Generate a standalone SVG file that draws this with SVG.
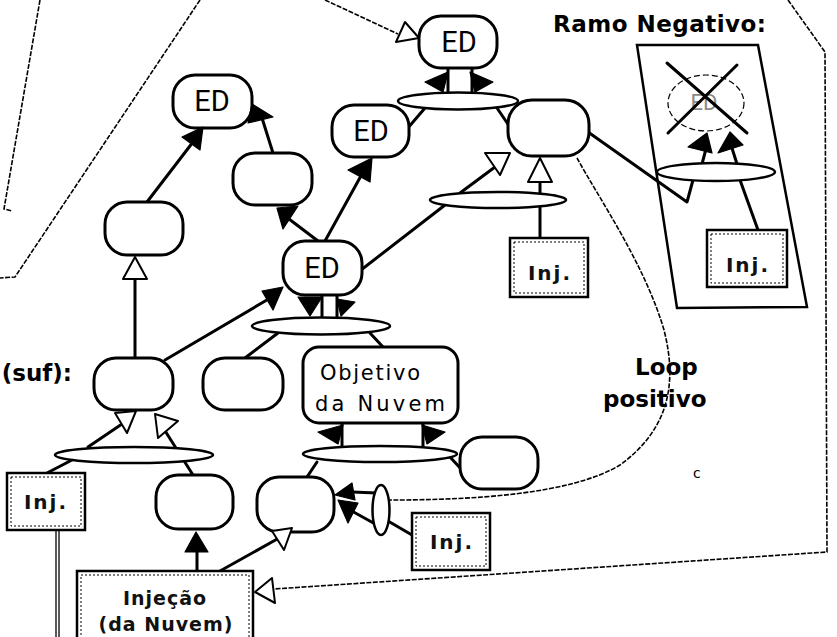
<svg xmlns="http://www.w3.org/2000/svg" width="837" height="637" viewBox="0 0 837 637">
<style>
  .node{fill:#fff;stroke:#000;stroke-width:3}
  .box{fill:#fff;stroke:#000;stroke-width:2.5}
  .inner{fill:none;stroke:#000;stroke-width:1;stroke-dasharray:2 2}
  .and{fill:#fff;stroke:#000;stroke-width:2.5}
  .ln{fill:none;stroke:#000;stroke-width:3;stroke-linecap:round;stroke-linejoin:round}
  .thin{fill:none;stroke:#000;stroke-width:1.3}
  .dash{fill:none;stroke:#000;stroke-width:1.6;stroke-dasharray:5 1.5}
  .ah{fill:#000;stroke:#000;stroke-width:1.2;stroke-linejoin:round}
  .ahh{fill:#fff;stroke:#000;stroke-width:2;stroke-linejoin:round}
  .ed{font-family:Roboto,"Liberation Sans",sans-serif;font-size:29px;text-anchor:middle;fill:#000}
  .lbl{font-family:"DejaVu Sans",sans-serif;font-weight:bold;font-size:23px;fill:#000}
  .inj{font-family:"DejaVu Sans",sans-serif;font-weight:bold;font-size:20px;text-anchor:middle;letter-spacing:2px;fill:#111}
  .obj{font-family:"DejaVu Sans",sans-serif;font-size:21px;fill:#000}
</style>
<rect width="837" height="637" fill="#fff"/>

<!-- region boundaries -->
<g id="boundaries">
  <polyline class="dash" points="40,0 4,209 12,211"/>
  <polyline class="dash" points="200,0 15,277 0,278"/>
  <polyline class="dash" points="325,0 398,34"/>
  <polyline class="dash" points="788,0 825,52 827,552 274,589"/>
  <path class="dash" d="M577,158 C600,200 645,265 664,330 C678,385 668,430 620,465 C570,495 470,500 390,500"/>
</g>

<!-- connectors -->
<g id="connectors">
  <line class="ln" x1="147" y1="202" x2="193" y2="142"/>
  <line class="ln" x1="273" y1="153" x2="262" y2="118"/>
  <line class="ln" x1="318" y1="241" x2="289" y2="219"/>
  <line class="ln" x1="325" y1="241" x2="362" y2="174"/>
  <line class="ln" x1="135" y1="358" x2="135" y2="279"/>
  <line class="ln" x1="165" y1="360" x2="272" y2="297"/>
  <line class="ln" x1="361" y1="270" x2="445" y2="205"/>
  <line class="ln" x1="460" y1="193" x2="495" y2="167"/>
  <line class="ln" x1="540" y1="238" x2="540" y2="180"/>
  <line class="ln" x1="425" y1="108" x2="407" y2="129"/>
  <line class="ln" x1="497" y1="108" x2="512" y2="130"/>
  <polyline class="ln" points="588,132 687,202 693,180"/>
  <line class="ln" x1="740" y1="180" x2="758" y2="230"/>
  <line class="ln" x1="702" y1="164" x2="707" y2="145"/>
  <line class="ln" x1="737" y1="164" x2="731" y2="145"/>
  <line class="ln" x1="448" y1="93" x2="448" y2="68"/>
  <line class="ln" x1="472" y1="93" x2="472" y2="68"/>
  <line class="ln" x1="322" y1="318" x2="322" y2="295"/>
  <line class="ln" x1="337" y1="318" x2="337" y2="295"/>
  <line class="ln" x1="278" y1="333" x2="245" y2="358"/>
  <line class="ln" x1="370" y1="333" x2="383" y2="347"/>
  <line class="ln" x1="342" y1="447" x2="342" y2="423"/>
  <line class="ln" x1="423" y1="447" x2="423" y2="423"/>
  <line class="ln" x1="317" y1="462" x2="307" y2="477"/>
  <line class="ln" x1="450" y1="457" x2="462" y2="470"/>
  <line class="ln" x1="377" y1="493" x2="352" y2="492"/>
  <line class="ln" x1="377" y1="525" x2="350" y2="510"/>
  <line class="ln" x1="388" y1="521" x2="412" y2="535"/>
  <line class="ln" x1="47" y1="473" x2="72" y2="460"/>
  <line class="ln" x1="88" y1="447" x2="122" y2="424"/>
  <line class="ln" x1="193" y1="475" x2="162" y2="426"/>
  <line class="ln" x1="197" y1="571" x2="197" y2="552"/>
  <line class="ln" x1="220" y1="571" x2="279" y2="538"/>
  <line class="thin" x1="56" y1="530" x2="56" y2="637"/>
  <line class="thin" x1="59" y1="530" x2="59" y2="637"/>
</g>

<!-- logical AND connectors -->
<g id="and-connectors">
  <ellipse class="and" cx="458" cy="101" rx="60" ry="8.5"/>
  <ellipse class="and" cx="498" cy="200" rx="68" ry="8"/>
  <ellipse class="and" cx="321" cy="326" rx="69" ry="8.5"/>
  <ellipse class="and" cx="134" cy="455" rx="79" ry="8"/>
  <ellipse class="and" cx="380" cy="454" rx="77" ry="8"/>
  <ellipse class="and" cx="381" cy="510" rx="8.5" ry="25"/>
  <ellipse class="and" cx="716" cy="172" rx="59" ry="9"/>
</g>

<!-- negative branch frame -->
<g id="ramo-negativo">
  <polygon points="637,45 758,45 807,307 677,308" fill="none" stroke="#000" stroke-width="2.5"/>
  <ellipse cx="706" cy="103" rx="38" ry="28" fill="none" stroke="#000" stroke-width="1.2" stroke-dasharray="6 3"/>
  <text x="704" y="110" class="ed" style="fill:#8a8a8a;font-size:22px">ED</text>
  <line class="ln" x1="667" y1="63" x2="747" y2="133"/>
  <line class="ln" x1="737" y1="65" x2="668" y2="133"/>
</g>

<!-- nodes -->
<g id="ed-top"><rect class="node" x="419" y="16" width="78" height="52" rx="22"/><text class="ed" x="459" y="52">ED</text></g>
<g id="ed-left"><rect class="node" x="173" y="75" width="79" height="53" rx="22"/><text class="ed" x="212" y="111">ED</text></g>
<g id="ed-mid"><rect class="node" x="332" y="105" width="77" height="52" rx="22"/><text class="ed" x="371" y="141">ED</text></g>
<g id="ed-center"><rect class="node" x="283" y="241" width="79" height="54" rx="22"/><text class="ed" x="322" y="278">ED</text></g>
<g id="node-a"><rect class="node" x="105" y="202" width="78" height="53" rx="22"/></g>
<g id="node-b"><rect class="node" x="233" y="153" width="79" height="52" rx="22"/></g>
<g id="node-c"><rect class="node" x="508" y="100" width="81" height="56" rx="24"/></g>
<g id="node-suf"><rect class="node" x="94" y="358" width="79" height="52" rx="22"/></g>
<g id="node-d"><rect class="node" x="203" y="358" width="80" height="52" rx="22"/></g>
<g id="objetivo"><rect class="node" x="303" y="347" width="155" height="76" rx="16"/>
  <text class="obj" x="320" y="380" textLength="100" lengthAdjust="spacing">Objetivo</text>
  <text class="obj" x="315" y="411" textLength="130" lengthAdjust="spacing">da Nuvem</text></g>
<g id="node-e"><rect class="node" x="156" y="475" width="77" height="54" rx="22"/></g>
<g id="node-f"><rect class="node" x="257" y="477" width="77" height="55" rx="22"/></g>
<g id="node-g"><rect class="node" x="460" y="437" width="78" height="52" rx="22"/></g>

<g id="inj-mid"><rect class="box" x="510" y="238" width="78" height="59"/><rect class="inner" x="514" y="242" width="70" height="51"/><text class="inj" x="550" y="280">Inj.</text></g>
<g id="inj-neg"><rect class="box" x="707" y="230" width="80" height="57"/><rect class="inner" x="711" y="234" width="72" height="49"/><text class="inj" x="748" y="272">Inj.</text></g>
<g id="inj-left"><rect class="box" x="7" y="473" width="78" height="57"/><rect class="inner" x="11" y="477" width="70" height="49"/><text class="inj" x="46" y="509">Inj.</text></g>
<g id="inj-bottom"><rect class="box" x="412" y="513" width="78" height="57"/><rect class="inner" x="416" y="517" width="70" height="49"/><text class="inj" x="452" y="549">Inj.</text></g>
<g id="injecao"><rect class="box" x="77" y="571" width="176" height="80"/><rect class="inner" x="81" y="575" width="168" height="72"/>
  <text class="inj" x="165" y="605" style="font-size:19px;letter-spacing:1px">Injeção</text>
  <text class="inj" x="166" y="631" style="font-size:19px;letter-spacing:1px">(da Nuvem)</text></g>

<!-- arrowheads -->
<g id="arrowheads">
  <polygon class="ahh" points="419,38 405,22 396,42"/>
  <polygon class="ah" points="203,127 182,137 200,150"/>
  <polygon class="ah" points="252,104 248,123 273,117"/>
  <polygon class="ah" points="277,208 298,206 283,229"/>
  <polygon class="ah" points="372,158 348,170 370,182"/>
  <polygon class="ahh" points="135,257 123,279 147,279"/>
  <polygon class="ah" points="283,287 262,291 273,310"/>
  <polygon class="ahh" points="485,153 510,153 500,175"/>
  <polygon class="ahh" points="540,158 528,182 552,182"/>
  <polygon class="ah" points="425,82 448,72 443,92"/>
  <polygon class="ah" points="493,82 470,72 475,92"/>
  <polygon class="ah" points="298,297 322,297 310,316"/>
  <polygon class="ah" points="337,299 355,302 341,316"/>
  <polygon class="ah" points="318,432 343,425 338,444"/>
  <polygon class="ah" points="445,432 422,425 427,444"/>
  <polygon class="ah" points="707,133 688,147 712,153"/>
  <polygon class="ah" points="730,132 718,153 743,145"/>
  <polygon class="ahh" points="115,413 136,411 127,433"/>
  <polygon class="ahh" points="155,414 178,421 158,438"/>
  <polygon class="ah" points="196,532 185,552 208,552"/>
  <polygon class="ahh" points="272,531 292,528 284,550"/>
  <polygon class="ah" points="335,495 352,483 355,500"/>
  <polygon class="ah" points="338,500 358,503 348,523"/>
  <polygon class="ahh" points="255,592 272,578 275,603"/>
</g>

<!-- labels -->
<g id="labels">
  <text class="lbl" x="553" y="32" textLength="213" lengthAdjust="spacing">Ramo  Negativo:</text>
  <text class="lbl" x="72" y="381" text-anchor="end">(suf):</text>
  <text class="lbl" x="635" y="375">Loop</text>
  <text class="lbl" x="603" y="407">positivo</text>
  <text x="693" y="478" style="font-family:'DejaVu Sans',sans-serif;font-size:14px">c</text>
</g>
</svg>
